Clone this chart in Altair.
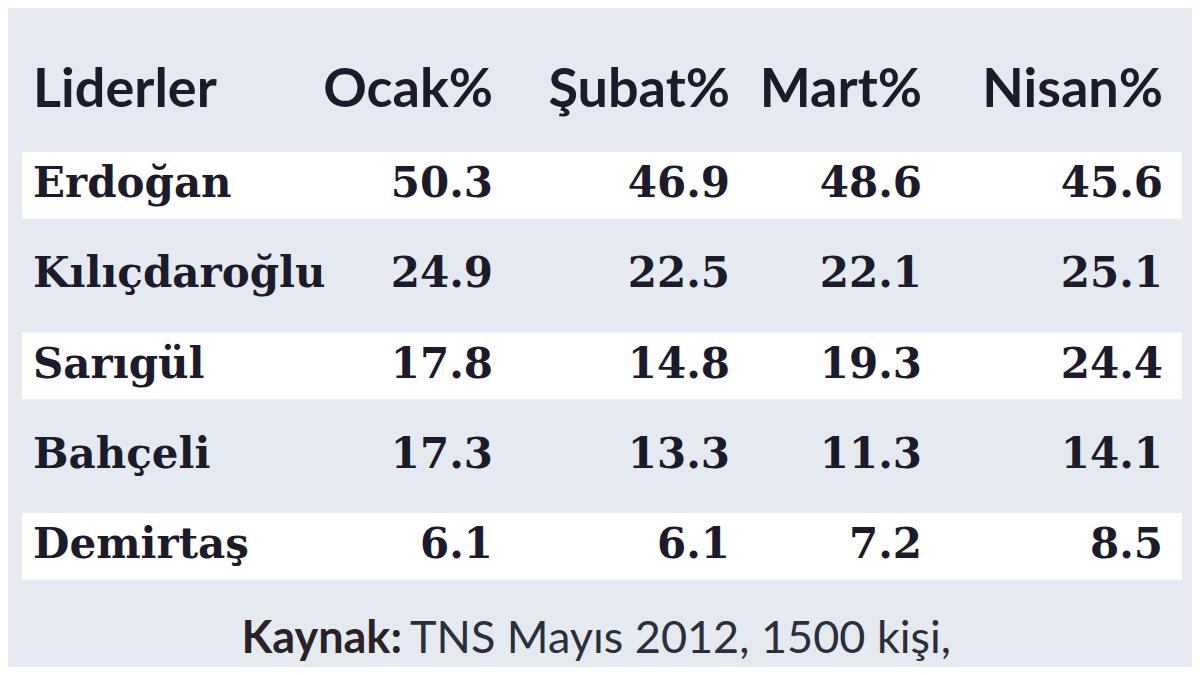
import altair as alt
import pandas as pd

# ---- data ----
first_header = "Liderler"
months = ["Ocak%", "Şubat%", "Mart%", "Nisan%"]
leaders = ["Erdoğan", "Kılıçdaroğlu", "Sarıgül", "Bahçeli", "Demirtaş"]
ocak = [50.3, 24.9, 17.8, 17.3, 6.1]
subat = [46.9, 22.5, 14.8, 13.3, 6.1]
mart = [48.6, 22.1, 19.3, 11.3, 7.2]
nisan = [45.6, 25.1, 24.4, 14.1, 8.5]
source_label = "Kaynak:"
source_text = "TNS Mayıs 2012, 1500 kişi,"

# ---- tables built from the arrays ----
header_df = pd.DataFrame({"label": [first_header] + months,
                          "col": list(range(5)), "row": [0] * 5})
names_df = pd.DataFrame({"label": leaders, "col": [0] * len(leaders),
                         "row": list(range(1, len(leaders) + 1))})
series = [ocak, subat, mart, nisan]
rows = []
for j, vals in enumerate(series):
    for i, v in enumerate(vals):
        rows.append({"value": v, "col": j + 1, "row": i + 1})
values_df = pd.DataFrame(rows)
foot_df = pd.DataFrame({"label": [source_label], "text": [source_text]})

BG = "#e5eaf1"
INK = "#1c1b2b"

xs = alt.Scale(domain=[0, 1, 2, 3, 4], range=[25, 485, 722, 914, 1155],
               zero=False, nice=False)
ys = alt.Scale(domain=[0, 5], range=[99, 550], zero=False, nice=False)

bands = alt.Chart(names_df).transform_filter("datum.row % 2 == 1").transform_calculate(
    y0="datum.row - 0.5", y1="datum.row + 0.24"
).mark_rect(color="#ffffff").encode(
    y=alt.Y("y0:Q", scale=ys, axis=None),
    y2="y1:Q",
    x=alt.value(14),
    x2=alt.value(1174),
)

header_left = alt.Chart(header_df).transform_filter("datum.col == 0").mark_text(
    align="left", baseline="alphabetic", font="Lato", fontWeight="bold",
    fontSize=54, color=INK
).encode(
    x=alt.X("col:Q", scale=xs, axis=None),
    y=alt.Y("row:Q", scale=ys, axis=None),
    text="label:N",
)

header_right = alt.Chart(header_df).transform_filter("datum.col > 0").mark_text(
    align="right", baseline="alphabetic", font="Lato", fontWeight="bold",
    fontSize=54, color=INK
).encode(
    x=alt.X("col:Q", scale=xs, axis=None),
    y=alt.Y("row:Q", scale=ys, axis=None),
    text="label:N",
)

names = alt.Chart(names_df).mark_text(
    align="left", baseline="alphabetic", font="DejaVu Serif", fontWeight="bold",
    fontSize=42, color=INK
).encode(
    x=alt.X("col:Q", scale=xs, axis=None),
    y=alt.Y("row:Q", scale=ys, axis=None),
    text="label:N",
)

nums = alt.Chart(values_df).mark_text(
    align="right", baseline="alphabetic", font="DejaVu Serif", fontWeight="bold",
    fontSize=42, color=INK
).encode(
    x=alt.X("col:Q", scale=xs, axis=None),
    y=alt.Y("row:Q", scale=ys, axis=None),
    text=alt.Text("value:Q", format=".1f"),
)

foot_bold = alt.Chart(foot_df).mark_text(
    align="right", baseline="alphabetic", font="Lato", fontWeight="bold",
    fontSize=45, color="#2a2226"
).encode(
    x=alt.value(394), y=alt.value(645), text="label:N",
)

foot_reg = alt.Chart(foot_df).mark_text(
    align="left", baseline="alphabetic", font="Lato", fontWeight="normal",
    fontSize=45, color="#2b2f3c"
).encode(
    x=alt.value(402), y=alt.value(645), text="text:N",
)

chart = alt.layer(
    bands, header_left, header_right, names, nums, foot_bold, foot_reg
).properties(
    width=1184, height=659, background=BG, padding=0, autosize="none"
).configure_view(stroke=None)

chart.save("out.html", embed_options={"renderer": "svg", "actions": False})
